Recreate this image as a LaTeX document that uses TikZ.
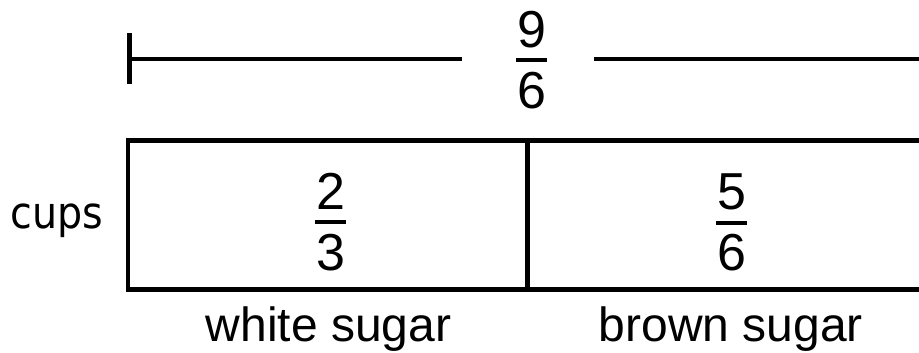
\documentclass[tikz,border=0pt]{standalone}
\usepackage{fontspec}
\setmainfont{Liberation Sans}
\newfontfamily\cupsfont{DejaVu Sans Condensed}
\begin{document}
\begin{tikzpicture}[x=1pt,y=-1pt,
  thick line/.style={line width=4.7pt},
  barline/.style={line width=3.3pt},
  txt/.style={inner sep=0pt,anchor=base,font=\fontsize{48}{48}\selectfont},
  digit/.style={inner sep=0pt,anchor=base,font=\fontsize{52}{52}\selectfont}]
\useasboundingbox (0,0) rectangle (919,353);
% total bracket line
\coordinate (tickT) at (129.5,33);
\coordinate (tickB) at (129.5,84);
\coordinate (lineL) at (129.5,59);
\coordinate (lineM1) at (462,59);
\coordinate (lineM2) at (594,59);
\coordinate (lineR) at (930,59);
\draw[thick line] (tickT) -- (tickB);
\draw[thick line] (lineL) -- (lineM1);
\draw[thick line] (lineM2) -- (lineR);
% total fraction 9/6
\node[digit] (n9) at (531.5,48) {9};
\node[digit] (d6) at (531.5,109) {6};
\draw[barline] (516,60) -- (547,60);
% box
\coordinate (boxTL) at (128,140.5);
\coordinate (boxBR) at (934,289.5);
\coordinate (divT) at (527.5,140.5);
\coordinate (divB) at (527.5,289.5);
\draw[thick line] (boxTL) rectangle (boxBR);
\draw[thick line] (divT) -- (divB);
% fractions inside
\node[digit] (n2) at (330.5,209) {2};
\node[digit] (d3) at (330.5,270) {3};
\draw[barline] (315,222) -- (346,222);
\node[digit] (n5) at (731.5,209) {5};
\node[digit] (d6b) at (731.5,270) {6};
\draw[barline] (716,223) -- (747,223);
% labels
\node[inner sep=0pt,anchor=base,font=\cupsfont\fontsize{44}{44}\selectfont] (cups) at (57,228) {cups};
\node[txt] (white) at (328.5,341) {white sugar};
\node[txt] (brown) at (731,341) {brown sugar};
\end{tikzpicture}
\end{document}
